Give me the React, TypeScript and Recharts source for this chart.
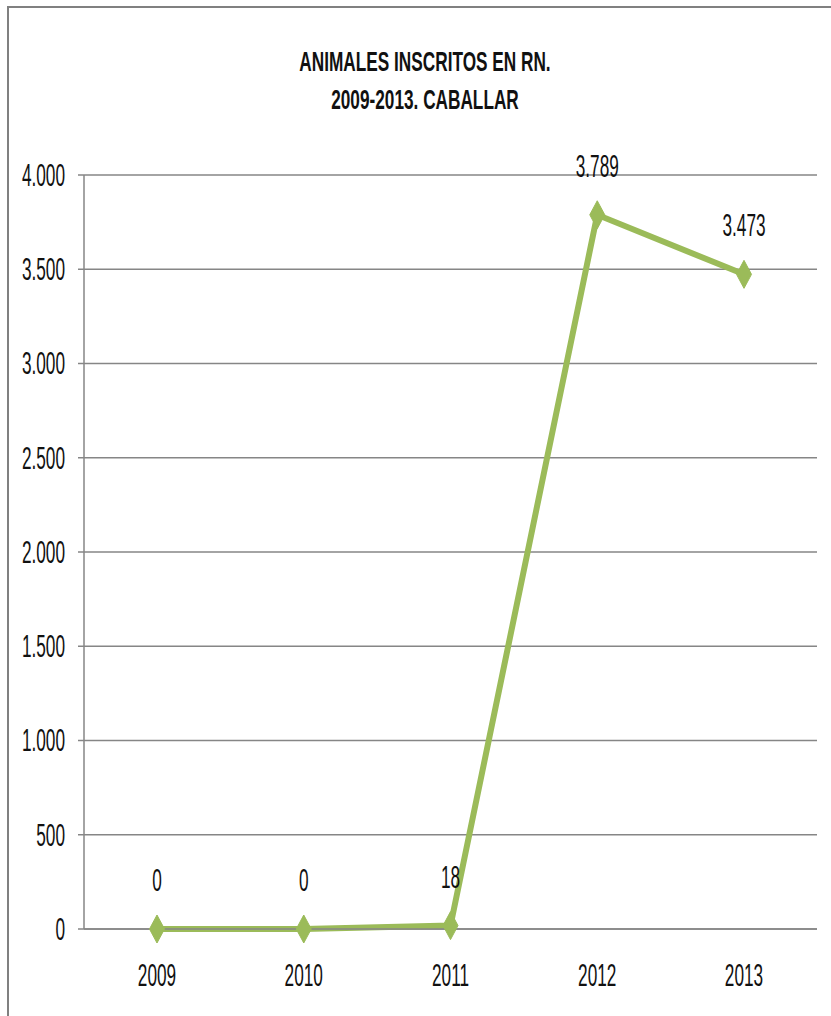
import { LineChart, Line, XAxis, YAxis, CartesianGrid, LabelList } from 'recharts';

const years = ['2009', '2010', '2011', '2012', '2013'];
const inscritos = [0, 0, 18, 3789, 3473];
const yTicks = [0, 500, 1000, 1500, 2000, 2500, 3000, 3500, 4000];
const titleLines = ['ANIMALES INSCRITOS EN RN.', '2009-2013. CABALLAR'];

const data = years.map((y, i) => ({ anio: y, valor: inscritos[i] }));

const FONT = "'Liberation Sans', Arial, sans-serif";
const SX = 0.82; // emula una fuente estrecha
const SY = 1.45;
const VERDE = '#9BBB59';
const GRIS = '#868686';

// miles con punto, como en el original (4.000)
const formatoMiles = (v: number) => String(v).replace(/\B(?=(\d{3})+(?!\d))/g, '.');

function TickTexto({ x, y, payload, anchor }: any) {
  const txt = typeof payload.value === 'number' ? formatoMiles(payload.value) : payload.value;
  return (
    <g transform={`translate(${x},${y}) scale(${SX},${SY})`}>
      <text x={0} y={0} dy="0.36em" textAnchor={anchor} fontFamily={FONT} fontSize={21} fill="#111">
        {txt}
      </text>
    </g>
  );
}

function Diamante({ cx, cy }: any) {
  if (cx == null || cy == null) return null;
  const w = 7.5;
  const h = 14;
  return (
    <path
      d={`M${cx},${cy - h} L${cx + w},${cy} L${cx},${cy + h} L${cx - w},${cy} Z`}
      fill={VERDE}
      stroke={VERDE}
    />
  );
}

function Etiqueta(props: any) {
  const x = props.x ?? props.viewBox?.x;
  const y = props.y ?? props.viewBox?.y;
  if (x == null || y == null) return null;
  return (
    <g transform={`translate(${x},${y - 49}) scale(${SX},${SY})`}>
      <text x={0} y={0} dy="0.36em" textAnchor="middle" fontFamily={FONT} fontSize={21} fill="#111">
        {formatoMiles(props.value)}
      </text>
    </g>
  );
}

export default function App() {
  return (
    <div style={{ position: 'absolute', left: 0, top: 0, width: 831, height: 1016, overflow: 'hidden', background: '#fff' }}>
      <div
        style={{
          position: 'absolute',
          left: 7,
          top: 6,
          width: 900,
          height: 1100,
          border: '2px solid #808080',
        }}
      />
      {titleLines.map((t, i) => (
        <div
          key={t}
          style={{
            position: 'absolute',
            left: 0,
            width: 850,
            top: i === 0 ? 47 : 85,
            height: 30,
            lineHeight: '30px',
            textAlign: 'center',
            fontFamily: FONT,
            fontWeight: 'bold',
            fontSize: 21,
            color: '#111',
            transform: `scale(${SX},1.35)`,
          }}
        >
          {t}
        </div>
      ))}
      <div style={{ position: 'absolute', left: 0, top: 0 }}>
        <LineChart width={831} height={1016} data={data} margin={{ top: 175, right: 14, bottom: 27, left: 0 }}>
          <CartesianGrid vertical={false} stroke={GRIS} strokeWidth={1.5} />
          <XAxis
            dataKey="anio"
            height={60}
            padding={{ left: 73, right: 73 }}
            tickLine={false}
            tickSize={0}
            tickMargin={46}
            axisLine={{ stroke: GRIS, strokeWidth: 1.5 }}
            tick={<TickTexto anchor="middle" />}
          />
          <YAxis
            width={84}
            domain={[0, 4000]}
            ticks={yTicks}
            interval={0}
            tickSize={6}
            tickMargin={13}
            tickLine={{ stroke: GRIS, strokeWidth: 1.5 }}
            axisLine={{ stroke: GRIS, strokeWidth: 1.5 }}
            tick={<TickTexto anchor="end" />}
          />
          <Line
            dataKey="valor"
            type="linear"
            stroke={VERDE}
            strokeWidth={6}
            dot={<Diamante />}
            activeDot={false}
            isAnimationActive={false}
          >
            <LabelList dataKey="valor" content={<Etiqueta />} />
          </Line>
        </LineChart>
      </div>
    </div>
  );
}
